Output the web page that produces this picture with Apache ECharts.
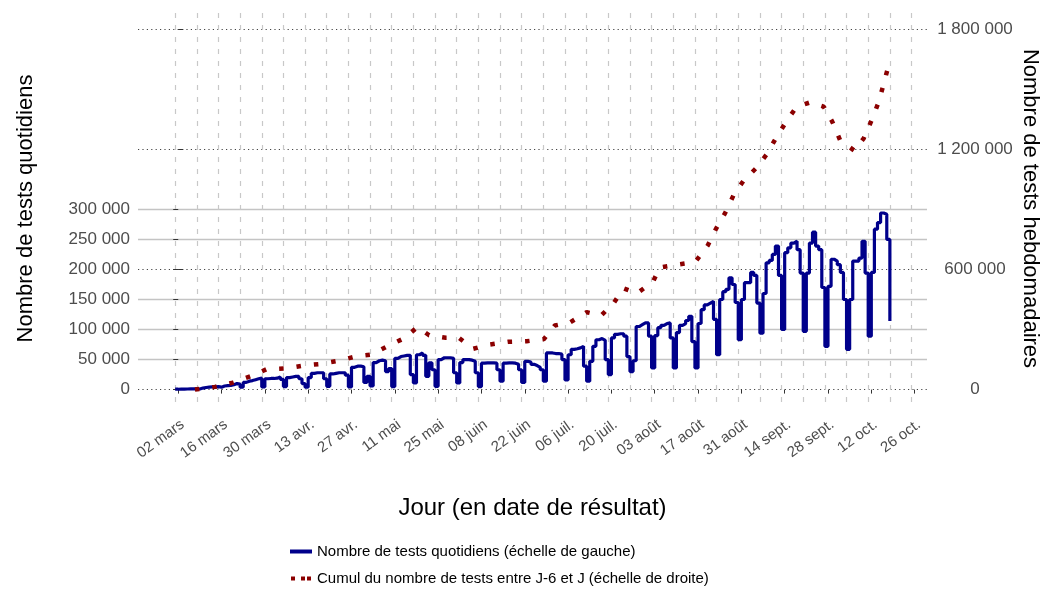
<!DOCTYPE html>
<html>
<head>
<meta charset="utf-8">
<script src="https://cdn.jsdelivr.net/npm/echarts@6/dist/echarts.min.js"></script>
<style>
  html, body { margin: 0; padding: 0; background: #fff; }
  #chart { width: 1042px; height: 590px; }
</style>
</head>
<body>
<div id="chart"></div>
<script>
// axe des x : jours comptés depuis le 02 mars 2020 (jour 0)
const firstDay = -1

// tests quotidiens, du dimanche 01 mars au dimanche 18 oct., une ligne par semaine (dim. -> sam.)
const dailyTests = [
  600, 800, 900, 1000, 1100, 1200, 1100,
  1000, 2500, 3500, 4000, 4500, 4500, 5000,
  4000, 6000, 6500, 7000, 8000, 10000, 9000,
  4000, 12000, 14000, 15000, 16500, 18000, 19000,
  4500, 18000, 18500, 18500, 19000, 21000, 17000,
  5000, 20000, 21000, 22000, 22000, 18000, 10000,
  4000, 20000, 27000, 28000, 28000, 28000, 18000,
  5500, 26000, 27000, 28000, 28000, 28000, 24000,
  4500, 37000, 39000, 39000, 38000, 12000, 22000,
  6000, 45000, 48000, 49000, 48000, 30000, 35000,
  5000, 52000, 55000, 56000, 57000, 57000, 25000,
  11000, 58000, 61000, 57000, 22000, 44500, 33000,
  5500, 50000, 53000, 53000, 53000, 52000, 28000,
  11000, 45000, 50000, 50000, 49000, 47000, 28000,
  5000, 44000, 44500, 44500, 44500, 44000, 33000,
  14000, 44000, 44500, 44500, 44000, 42000, 33000,
  12000, 47000, 46000, 42000, 40000, 37000, 33000,
  14000, 61000, 61000, 60000, 60000, 59000, 50000,
  16000, 58000, 67000, 68000, 69500, 72000, 39000,
  14000, 47000, 72000, 83000, 85000, 82000, 50000,
  25000, 86000, 92000, 93000, 93000, 89000, 55000,
  30000, 48000, 105000, 108000, 111000, 111000, 89000,
  36000, 90000, 103000, 107000, 110000, 111000, 86000,
  36000, 95000, 107000, 110000, 115000, 122000, 80000,
  36000, 110000, 133000, 141000, 144000, 147000, 117000,
  58000, 150000, 163000, 167000, 186000, 175000, 145000,
  83000, 150000, 178000, 178000, 195000, 190000, 144000,
  94000, 160000, 211000, 215000, 225000, 239000, 190000,
  100000, 228000, 236000, 244000, 247000, 233000, 194000,
  97000, 194000, 244000, 262000, 239000, 233000, 170000,
  72000, 172000, 217000, 214000, 208000, 195000, 150000,
  67000, 150000, 214000, 214000, 219000, 247000, 194000,
  89000, 195000, 267000, 278000, 294000, 292000, 250000,
  114000
]

// cumul sur 7 jours (échelle de droite), relevé aux points de la ligne pointillée
const weeklyDays = [
  5.4, 11.9, 17.7, 23.4, 28.5, 34.5, 40.4, 45.8, 51.7, 57.6,
  62.5, 67.9, 73.3, 77.3, 81.1, 86.5, 90.7, 95.3, 100.7, 106.6,
  112.6, 118.2, 121.7, 126.6, 132.0, 136.7, 140.8, 143.9, 148.2, 153.5,
  155.6, 161.6, 167.1, 171.1, 173.7, 176.7, 179.6, 182.6, 186.7, 190.3,
  193.4, 196.8, 199.8, 204.3, 208.6, 211.4, 213.9, 218.5, 221.5, 224.3,
  226.5, 228.1, 229.7
]
const weeklyTests = [
  0, 13500, 35000, 66500, 101500, 105000, 120000, 127500, 143500, 166500,
  175000, 218500, 258500, 312500, 271500, 258500, 258500, 203500, 225000, 238500,
  241500, 252500, 320000, 335000, 386500, 370000, 433500, 506000, 480000, 540000,
  610000, 625000, 637500, 718500, 800000, 880000, 975000, 1041000, 1105000, 1177000,
  1262500, 1345000, 1411500, 1435000, 1413500, 1337500, 1246000, 1193500, 1253500, 1352000,
  1441500, 1533500, 1625000
]

const xTickDays = [0, 14, 28, 42, 56, 70, 84, 98, 112, 126, 140, 154, 168, 182, 196, 210, 224, 238]
const xTickLabels = [
  '02 mars', '16 mars', '30 mars', '13 avr.', '27 avr.', '11 mai', '25 mai', '08 juin', '22 juin',
  '06 juil.', '20 juil.', '03 août', '17 août', '31 août', '14 sept.', '28 sept.', '12 oct.', '26 oct.'
]
// dimanches : lignes verticales en tirets
const sundayDays = [
  -1, 6, 13, 20, 27, 34, 41, 48, 55, 62, 69, 76, 83, 90, 97, 104, 111, 118, 125, 132,
  139, 146, 153, 160, 167, 174, 181, 188, 195, 202, 209, 216, 223, 230, 237
]
const leftTicks = [0, 50000, 100000, 150000, 200000, 250000, 300000]
const leftGrid = [50000, 100000, 150000, 250000, 300000]
const rightTicks = [0, 600000, 1200000, 1800000]

const nameDaily = 'Nombre de tests quotidiens (échelle de gauche)'
const nameWeekly = 'Cumul du nombre de tests entre J-6 et J (échelle de droite)'

const fmt = (v) => String(v).replace(/\B(?=(\d{3})+(?!\d))/g, ' ')

const chart = echarts.init(document.getElementById('chart'))

const option = {
  animation: false,
  backgroundColor: '#fff',
  textStyle: { fontFamily: 'Liberation Sans, Arial, sans-serif' },
  grid: { left: 138, right: 115, top: 13, bottom: 186, outerBoundsMode: 'none' },
  legend: {
    orient: 'vertical',
    left: 290,
    top: 544,
    padding: 0,
    itemGap: 12,
    itemWidth: 22,
    itemHeight: 4,
    textStyle: { fontSize: 15, color: '#000' },
    data: [
      { name: nameDaily, icon: 'rect' },
      { name: nameWeekly, icon: 'path://M0,0h4v4h-4zM10,0h4v4h-4zM16,0h4v4h-4z' }
    ]
  },
  xAxis: [
    {
      type: 'value',
      min: -13,
      max: 242,
      offset: 3,
      axisLine: { show: false },
      axisTick: { customValues: xTickDays, length: 4, lineStyle: { color: '#333' } },
      axisLabel: {
        customValues: xTickDays,
        rotate: 36,
        margin: 10,
        verticalAlign: 'top',
        fontSize: 15,
        color: '#4d4d4d',
        formatter: (v) => xTickLabels[xTickDays.indexOf(v)]
      },
      splitLine: { show: false },
      name: 'Jour (en date de résultat)',
      nameLocation: 'middle',
      nameGap: 89,
      nameMoveOverlap: false,
      nameTextStyle: { fontSize: 24, color: '#000' }
    },
    {
      // grille verticale des dimanches
      type: 'value',
      min: -13,
      max: 242,
      axisLine: { show: false },
      axisLabel: { show: false },
      axisTick: { show: false, customValues: sundayDays },
      splitLine: { show: true, lineStyle: { color: '#c8c8c8', width: 1.2, type: [5, 7] } }
    }
  ],
  yAxis: [
    {
      type: 'value',
      position: 'left',
      min: -24000,
      max: 627000,
      axisLine: { show: false },
      axisTick: { show: true, customValues: leftTicks, length: 5, lineStyle: { color: '#333' } },
      axisLabel: { customValues: leftTicks, margin: 8, fontSize: 17, color: '#4d4d4d', formatter: fmt },
      splitLine: { show: false },
      name: 'Nombre de tests quotidiens',
      nameLocation: 'middle',
      nameGap: 101,
      nameMoveOverlap: false,
      nameTextStyle: { fontSize: 22, color: '#000' }
    },
    {
      type: 'value',
      position: 'right',
      min: -72000,
      max: 1881000,
      axisLine: { show: false },
      axisTick: { show: true, customValues: rightTicks, length: 5, lineStyle: { color: '#333' } },
      axisLabel: { customValues: rightTicks, margin: 48, align: 'center', fontSize: 17, color: '#4d4d4d', formatter: fmt },
      splitLine: { show: true, lineStyle: { color: '#444', width: 1, type: [1.2, 3.2] } },
      name: 'Nombre de tests hebdomadaires',
      nameLocation: 'middle',
      nameRotate: -90,
      nameGap: 92,
      nameMoveOverlap: false,
      nameTextStyle: { fontSize: 22, color: '#000' }
    },
    {
      // grille horizontale grise de l'échelle de gauche
      type: 'value',
      position: 'left',
      min: -24000,
      max: 627000,
      axisLine: { show: false },
      axisLabel: { show: false },
      axisTick: { show: false, customValues: leftGrid },
      splitLine: { show: true, lineStyle: { color: '#c4c4c4', width: 1.3 } }
    }
  ],
  series: [
    {
      name: nameDaily,
      type: 'line',
      xAxisIndex: 0,
      yAxisIndex: 0,
      step: 'end',
      showSymbol: false,
      data: dailyTests.map((v, i) => [firstDay + i, v]),
      lineStyle: { color: '#00008b', width: 3.2 },
      itemStyle: { color: '#00008b' },
      z: 3
    },
    {
      name: nameWeekly,
      type: 'line',
      xAxisIndex: 0,
      yAxisIndex: 1,
      showSymbol: false,
      data: weeklyDays.map((d, i) => [d, weeklyTests[i]]),
      lineStyle: { color: '#8b0000', width: 4.5, type: [4.5, 13], cap: 'butt' },
      itemStyle: { color: '#8b0000' },
      z: 4
    }
  ]
}

chart.setOption(option)
</script>
</body>
</html>
